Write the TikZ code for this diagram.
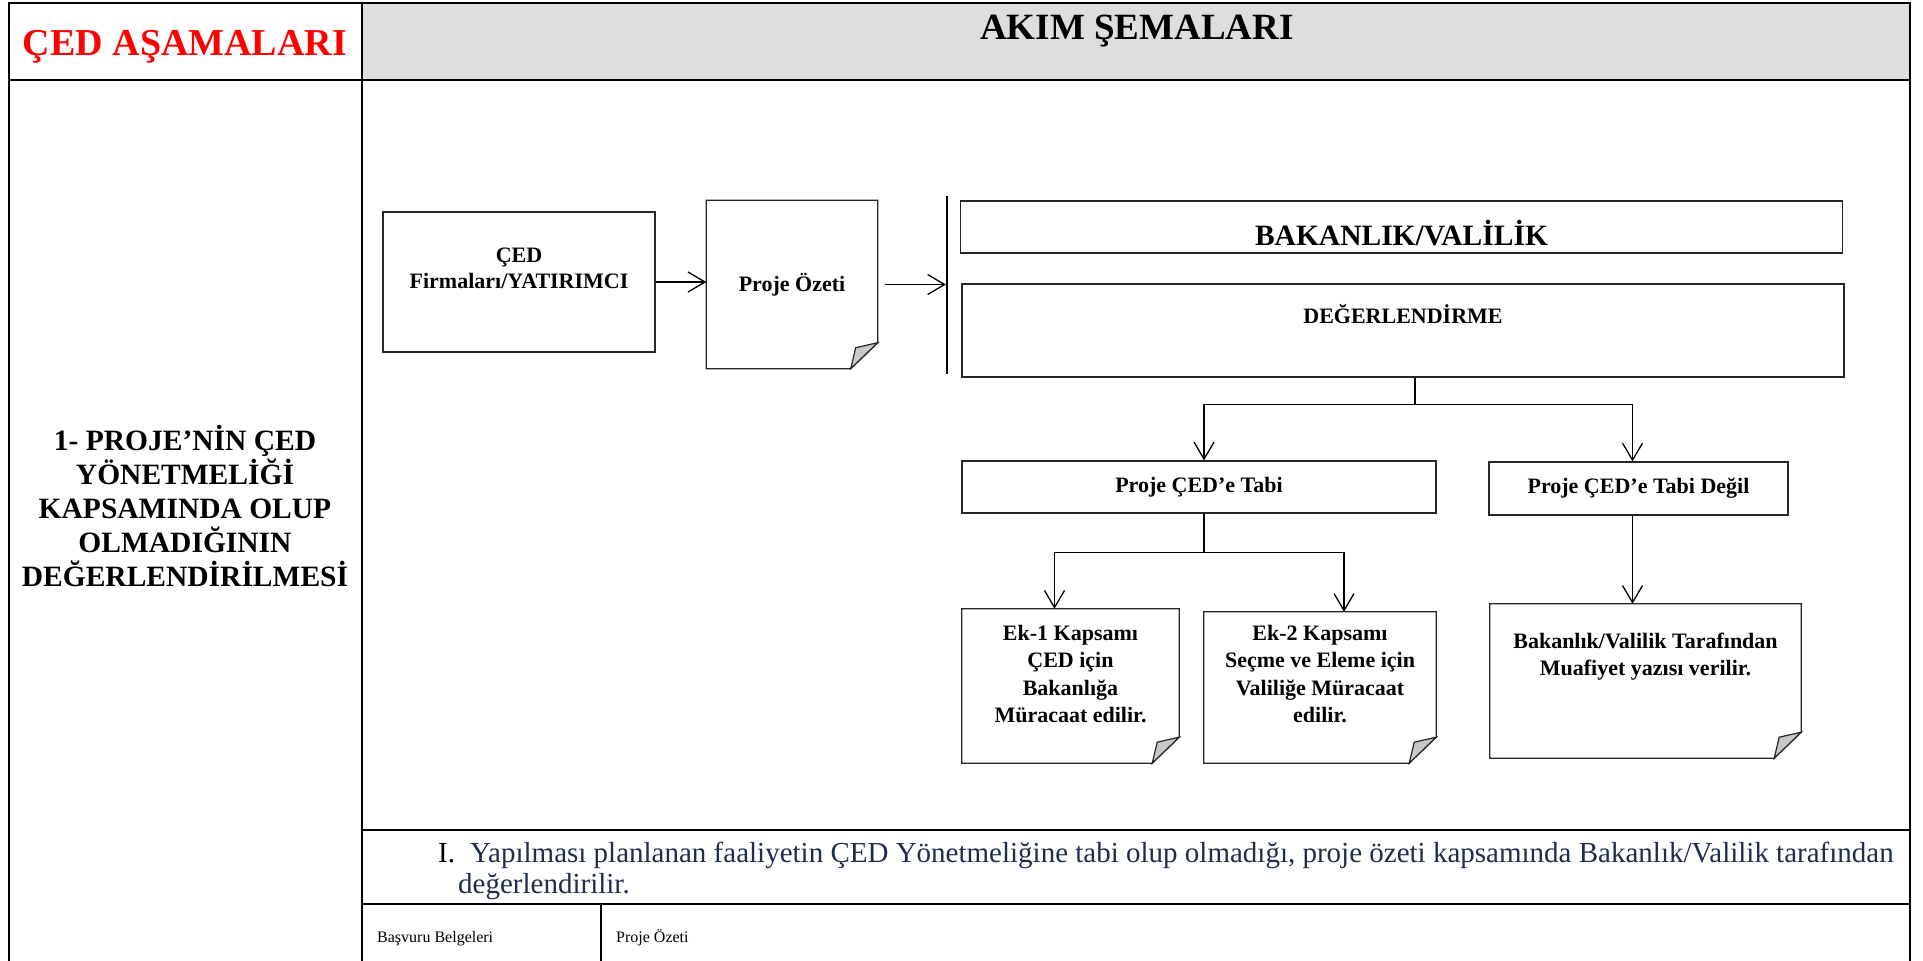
\documentclass[tikz,border=0pt]{standalone}
\usepackage{fontspec}
\setmainfont{Liberation Serif}
\usetikzlibrary{arrows.meta,positioning}

\definecolor{headgray}{HTML}{DEDEDE}
\definecolor{foldgray}{HTML}{C8C8C8}
\definecolor{bodynavy}{HTML}{1F2D4D}
\definecolor{titlered}{HTML}{FF0000}

% outline of a page with a turned-up corner
\newcommand{\pagefold}[1]{%
  \draw[boxline] (#1.north west) -- (#1.north east) -- ([yshift=26pt]#1.south east)
    -- ([xshift=-27pt]#1.south east) -- (#1.south west) -- cycle;
  \filldraw[boxline,fill=foldgray] ([yshift=26pt]#1.south east)
    -- ([xshift=-22pt,yshift=21pt]#1.south east) -- ([xshift=-27pt]#1.south east) -- cycle;
}

\begin{document}
\begin{tikzpicture}[x=1pt,y=-1pt,
  table/.style={line width=2.2pt},
  boxline/.style={line width=1.2pt,draw=black!85},
  box/.style={boxline,draw,inner sep=0pt},
  page/.style={inner sep=0pt},
  conn/.style={line width=1.3pt},
  arrow/.style={conn,-{Straight Barb[length=17pt,width=20pt]}},
  boxtext/.style={font=\fontsize{22}{26.5}\selectfont\bfseries,align=center,inner sep=0pt},
  pagetext/.style={font=\fontsize{22}{27.5}\selectfont\bfseries,align=center,inner sep=0pt},
]
\useasboundingbox (0,0) rectangle (1923,961);

% Table
\fill[headgray] (362,3) rectangle (1910,80);
\draw[table] (9,961) -- (9,3) -- (1910,3) -- (1910,961);
\draw[table] (362,3) -- (362,961);
\draw[table] (9,80) -- (1910,80);
\draw[table] (362,830) -- (1910,830);
\draw[table] (362,904) -- (1910,904);
\draw[table] (601,904) -- (601,961);

% Headings
\node[anchor=base,text=titlered,font=\fontsize{38}{40}\selectfont\bfseries] (stages) at (185,55) {ÇED AŞAMALARI};
\node[anchor=base,font=\fontsize{37}{40}\selectfont\bfseries] (charts) at (1137,39) {AKIM ŞEMALARI};

% Stage name
\node[anchor=north,align=center,inner sep=0pt,font=\fontsize{29.5}{34}\selectfont\bfseries] (stage1) at (185,425)
  {1- PROJE’NİN ÇED\\YÖNETMELİĞİ\\KAPSAMINDA OLUP\\OLMADIĞININ\\DEĞERLENDİRİLMESİ};

% Applicant and summary
\node[box,minimum width=272pt,minimum height=140pt] (firm) at (519,282) {};
\node[boxtext,below=36pt of firm.north] (firmtext) {ÇED\\Firmaları/YATIRIMCI};
\node[page,boxtext,minimum width=171pt,minimum height=168pt] (proje) at (792,284.5) {Proje Özeti};
\pagefold{proje}
\node[fill=black,minimum width=1.8pt,minimum height=178pt,inner sep=0pt] (bar) at (947,285) {};

\draw[arrow] (firm.east) -- (firm.east -| proje.west);
\draw[arrow] ([xshift=7pt]proje.east) -- (bar.west |- proje.east);

% Ministry / governorship
\node[box,minimum width=882pt,minimum height=52pt] (bakanlik) at (1401.5,227) {};
\node[anchor=base,font=\fontsize{29.5}{32}\selectfont\bfseries] (bakanliktext) at ([yshift=-18pt]bakanlik.center) {BAKANLIK/VALİLİK};
\node[box,minimum width=882pt,minimum height=93pt] (deg) at (1403,330.5) {};
\node[anchor=base,font=\fontsize{22}{26}\selectfont\bfseries] (degtext) at ([yshift=7pt]deg.center) {DEĞERLENDİRME};

% Decision
\node[box,boxtext,minimum width=474pt,minimum height=52pt] (tabi) at (1199,487) {Proje ÇED’e Tabi};
\node[box,boxtext,minimum width=299pt,minimum height=53pt] (degil) at (1638.5,488.5) {Proje ÇED’e Tabi Değil};

\draw[conn] ([xshift=12pt]deg.south) -- ++(0,27) coordinate (split1);
\draw[arrow] (split1) -| ([xshift=5pt]tabi.north);
\draw[arrow] (split1) -| ([xshift=-6pt]degil.north);

% Results
\node[page,minimum width=217pt,minimum height=154pt] (ek1) at (1070.5,686) {};
\pagefold{ek1}
\node[pagetext,below=16pt of ek1.north] (ek1text) {Ek-1 Kapsamı\\ÇED için\\Bakanlığa\\Müracaat edilir.};
\node[page,minimum width=232pt,minimum height=151pt] (ek2) at (1320,687.5) {};
\pagefold{ek2}
\node[pagetext,below=13pt of ek2.north] (ek2text) {Ek-2 Kapsamı\\Seçme ve Eleme için\\Valiliğe Müracaat\\edilir.};
\node[page,minimum width=311pt,minimum height=154pt] (muaf) at (1645.5,681) {};
\pagefold{muaf}
\node[pagetext,below=29pt of muaf.north] (muaftext) {Bakanlık/Valilik Tarafından\\Muafiyet yazısı verilir.};

\draw[conn] ([xshift=5pt]tabi.south) -- ++(0,39) coordinate (split2);
\draw[arrow] (split2) -| ([xshift=-16pt]ek1.north);
\draw[arrow] (split2) -| ([xshift=24pt]ek2.north);
\draw[arrow] ([xshift=-6pt]degil.south) -- ([xshift=-6pt]degil.south |- muaf.north);

% Description and documents
\node[anchor=base west,inner sep=0pt,font=\fontsize{29}{34}\selectfont] (num) at (438,862) {I.};
\node[anchor=base west,inner sep=0pt,text=bodynavy,font=\fontsize{29}{34}\selectfont] (desc1) at (470,862)
  {Yapılması planlanan faaliyetin ÇED Yönetmeliğine tabi olup olmadığı, proje özeti kapsamında Bakanlık/Valilik tarafından};
\node[anchor=base west,inner sep=0pt,text=bodynavy,font=\fontsize{29}{34}\selectfont] (desc2) at (458,893) {değerlendirilir.};
\node[anchor=base west,inner sep=0pt,font=\fontsize{16}{19}\selectfont] (docs) at (377,942) {Başvuru Belgeleri};
\node[anchor=base west,inner sep=0pt,font=\fontsize{16}{19}\selectfont] (docsval) at (616,942) {Proje Özeti};

\end{tikzpicture}
\end{document}
